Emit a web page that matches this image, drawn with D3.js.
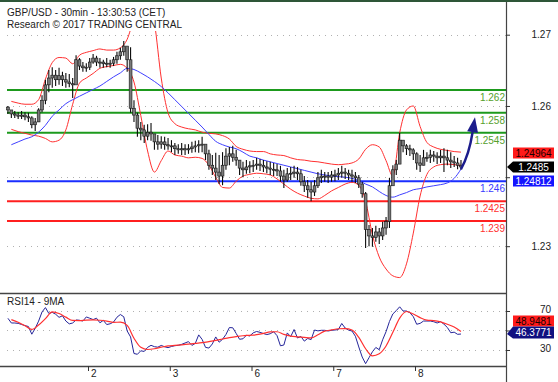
<!DOCTYPE html>
<html>
<head>
<meta charset="utf-8">
<script src="https://cdn.jsdelivr.net/npm/d3@7"></script>
<style>
  body { margin: 0; background: #fff; }
  svg { display: block; font-family: "Liberation Sans", Arial, sans-serif; }
</style>
</head>
<body>
<script>
// GBP/USD 30min, hourly bars (t = hours since start of day 1)

const firstOpen = 1.2590;

const barHigh = [
  1.2592, 1.2585, 1.2583, 1.2581, 1.2583, 1.2581, 1.2580, 1.2574, 1.2571, 1.2588,
  1.2611, 1.2638, 1.2655, 1.2660, 1.2655, 1.2659, 1.2652, 1.2650, 1.2648, 1.2641,
  1.2681, 1.2676, 1.2669, 1.2667, 1.2676, 1.2683, 1.2680, 1.2676, 1.2673, 1.2676,
  1.2673, 1.2678, 1.2687, 1.2694, 1.2706, 1.2690, 1.2695, 1.2602, 1.2580, 1.2564,
  1.2559, 1.2560, 1.2562, 1.2543, 1.2541, 1.2539, 1.2538, 1.2536, 1.2532, 1.2527,
  1.2525, 1.2527, 1.2525, 1.2525, 1.2529, 1.2531, 1.2532, 1.2538, 1.2524, 1.2515,
  1.2506, 1.2510, 1.2506, 1.2511, 1.2518, 1.2520, 1.2522, 1.2515, 1.2497, 1.2494,
  1.2497, 1.2495, 1.2497, 1.2501, 1.2499, 1.2497, 1.2495, 1.2494, 1.2492, 1.2490,
  1.2487, 1.2480, 1.2483, 1.2485, 1.2487, 1.2485, 1.2480, 1.2469, 1.2462, 1.2459,
  1.2462, 1.2476, 1.2480, 1.2476, 1.2476, 1.2478, 1.2480, 1.2483, 1.2487, 1.2483,
  1.2480, 1.2480, 1.2476, 1.2471, 1.2459, 1.2441, 1.2383, 1.2378, 1.2382, 1.2378,
  1.2389, 1.2397, 1.2466, 1.2488, 1.2497, 1.2545, 1.2532, 1.2525, 1.2524, 1.2518,
  1.2511, 1.2506, 1.2515, 1.2511, 1.2515, 1.2513, 1.2511, 1.2515, 1.2518, 1.2515,
  1.2511, 1.2504, 1.2501, 1.2497
];

const barLow = [
  1.2578, 1.2571, 1.2571, 1.2569, 1.2569, 1.2567, 1.2564, 1.2553, 1.2548, 1.2564,
  1.2581, 1.2595, 1.2616, 1.2624, 1.2627, 1.2629, 1.2627, 1.2624, 1.2625, 1.2606,
  1.2638, 1.2655, 1.2652, 1.2652, 1.2655, 1.2666, 1.2662, 1.2659, 1.2659, 1.2660,
  1.2659, 1.2662, 1.2666, 1.2673, 1.2680, 1.2652, 1.2580, 1.2564, 1.2538, 1.2532,
  1.2527, 1.2532, 1.2531, 1.2515, 1.2515, 1.2517, 1.2515, 1.2515, 1.2511, 1.2506,
  1.2508, 1.2506, 1.2506, 1.2508, 1.2510, 1.2511, 1.2510, 1.2511, 1.2497, 1.2480,
  1.2471, 1.2462, 1.2455, 1.2453, 1.2480, 1.2488, 1.2494, 1.2487, 1.2471, 1.2467,
  1.2473, 1.2474, 1.2476, 1.2480, 1.2478, 1.2476, 1.2474, 1.2471, 1.2469, 1.2469,
  1.2459, 1.2448, 1.2459, 1.2462, 1.2466, 1.2462, 1.2452, 1.2441, 1.2431, 1.2425,
  1.2434, 1.2448, 1.2457, 1.2459, 1.2457, 1.2459, 1.2460, 1.2462, 1.2466, 1.2464,
  1.2462, 1.2459, 1.2457, 1.2448, 1.2431, 1.2343, 1.2346, 1.2345, 1.2354, 1.2350,
  1.2357, 1.2366, 1.2378, 1.2453, 1.2471, 1.2497, 1.2511, 1.2506, 1.2504, 1.2497,
  1.2480, 1.2476, 1.2488, 1.2494, 1.2492, 1.2494, 1.2490, 1.2492, 1.2476, 1.2488,
  1.2483, 1.2485, 1.2481, 1.2480
];

const barClose = [
  1.2585, 1.2578, 1.2576, 1.2574, 1.2576, 1.2573, 1.2571, 1.2559, 1.2564, 1.2585,
  1.2602, 1.2629, 1.2641, 1.2646, 1.2638, 1.2645, 1.2638, 1.2634, 1.2631, 1.2629,
  1.2673, 1.2662, 1.2659, 1.2660, 1.2669, 1.2676, 1.2669, 1.2669, 1.2666, 1.2667,
  1.2667, 1.2673, 1.2680, 1.2687, 1.2697, 1.2673, 1.2588, 1.2576, 1.2553, 1.2550,
  1.2539, 1.2546, 1.2543, 1.2529, 1.2525, 1.2529, 1.2524, 1.2522, 1.2522, 1.2517,
  1.2515, 1.2517, 1.2515, 1.2517, 1.2520, 1.2522, 1.2524, 1.2525, 1.2508, 1.2488,
  1.2483, 1.2476, 1.2469, 1.2488, 1.2504, 1.2508, 1.2502, 1.2497, 1.2483, 1.2480,
  1.2485, 1.2487, 1.2488, 1.2490, 1.2488, 1.2485, 1.2483, 1.2481, 1.2480, 1.2478,
  1.2469, 1.2462, 1.2473, 1.2474, 1.2476, 1.2473, 1.2459, 1.2452, 1.2445, 1.2441,
  1.2452, 1.2466, 1.2469, 1.2469, 1.2467, 1.2471, 1.2471, 1.2474, 1.2476, 1.2474,
  1.2471, 1.2469, 1.2466, 1.2455, 1.2438, 1.2375, 1.2364, 1.2361, 1.2371, 1.2364,
  1.2378, 1.2389, 1.2452, 1.2480, 1.2490, 1.2532, 1.2522, 1.2517, 1.2515, 1.2508,
  1.2492, 1.2488, 1.2501, 1.2502, 1.2506, 1.2504, 1.2501, 1.2504, 1.2501, 1.2497,
  1.2494, 1.2492, 1.2488, 1.2485
];

// smooth lines, one value every second bar (bars 1, 3, ... 133)
const bbUpper = [
  1.2600, 1.2597, 1.2595, 1.2595, 1.2603, 1.2639, 1.2668, 1.2677, 1.2676, 1.2666,
  1.2681, 1.2686, 1.2689, 1.2692, 1.2690, 1.2690, 1.2694, 1.2709, 1.2746, 1.2779,
  1.2782, 1.2738, 1.2641, 1.2580, 1.2561, 1.2555, 1.2552, 1.2550, 1.2546, 1.2544,
  1.2543, 1.2540, 1.2534, 1.2521, 1.2516, 1.2513, 1.2512, 1.2512, 1.2508, 1.2506,
  1.2505, 1.2501, 1.2498, 1.2497, 1.2495, 1.2494, 1.2492, 1.2490, 1.2489, 1.2490,
  1.2492, 1.2499, 1.2516, 1.2524, 1.2520, 1.2496, 1.2469, 1.2545, 1.2585, 1.2592,
  1.2556, 1.2528, 1.2520, 1.2516, 1.2514, 1.2512, 1.2511
];

const bbLower = [
  1.2551, 1.2547, 1.2544, 1.2541, 1.2539, 1.2535, 1.2529, 1.2532, 1.2550, 1.2595,
  1.2632, 1.2641, 1.2649, 1.2658, 1.2661, 1.2663, 1.2665, 1.2658, 1.2634, 1.2575,
  1.2513, 1.2476, 1.2496, 1.2513, 1.2506, 1.2504, 1.2501, 1.2502, 1.2500, 1.2488,
  1.2467, 1.2449, 1.2448, 1.2460, 1.2469, 1.2472, 1.2474, 1.2473, 1.2471, 1.2464,
  1.2455, 1.2446, 1.2439, 1.2434, 1.2430, 1.2429, 1.2435, 1.2443, 1.2449, 1.2455,
  1.2458, 1.2453, 1.2425, 1.2366, 1.2327, 1.2306, 1.2294, 1.2291, 1.2315, 1.2369,
  1.2434, 1.2472, 1.2485, 1.2489, 1.2490, 1.2489, 1.2488
];

const movingAvg = [
  1.2524, 1.2529, 1.2534, 1.2538, 1.2546, 1.2558, 1.2574, 1.2585, 1.2596, 1.2603,
  1.2609, 1.2615, 1.2621, 1.2627, 1.2635, 1.2643, 1.2650, 1.2658, 1.2656, 1.2650,
  1.2643, 1.2635, 1.2626, 1.2615, 1.2603, 1.2591, 1.2579, 1.2567, 1.2555, 1.2542,
  1.2530, 1.2524, 1.2520, 1.2517, 1.2511, 1.2504, 1.2501, 1.2497, 1.2494, 1.2491,
  1.2488, 1.2485, 1.2482, 1.2479, 1.2476, 1.2473, 1.2471, 1.2469, 1.2468, 1.2467,
  1.2465, 1.2461, 1.2455, 1.2450, 1.2442, 1.2435, 1.2432, 1.2436, 1.2440, 1.2445,
  1.2447, 1.2450, 1.2452, 1.2454, 1.2457, 1.2465, 1.24812
];

const bollingerMidLast = 1.24964;

// RSI14 per bar and its 9 period average (every second bar)
const rsi = [
  62.5, 57.7, 57.7, 57.3, 56.2, 55.0, 54.1, 46.2, 52.2, 59.6,
  69.0, 73.5, 67.5, 68.6, 66.7, 63.5, 65.1, 59.7, 56.8, 57.7,
  60.8, 60.5, 59.7, 63.9, 62.6, 61.2, 62.6, 57.9, 60.4, 56.1,
  56.9, 58.7, 63.6, 66.4, 64.1, 49.5, 43.4, 26.4, 25.6, 29.2,
  28.5, 32.7, 34.8, 33.4, 32.9, 34.7, 33.3, 32.4, 33.6, 34.4,
  34.8, 35.8, 37.2, 38.6, 34.7, 36.8, 45.5, 40.9, 32.7, 32.0,
  36.2, 43.4, 38.0, 41.0, 45.9, 53.0, 52.8, 47.0, 41.0, 41.5,
  45.1, 44.4, 47.6, 49.0, 48.1, 46.9, 45.8, 46.7, 48.7, 44.7,
  34.3, 35.1, 47.5, 43.7, 51.0, 42.3, 43.9, 39.1, 41.8, 40.7,
  50.5, 49.6, 50.2, 50.2, 49.5, 50.2, 50.5, 51.0, 57.2, 52.5,
  50.4, 49.5, 44.1, 33.1, 22.8, 16.0, 22.1, 28.2, 32.6, 30.3,
  40.5, 48.8, 59.2, 67.0, 70.4, 74.3, 70.0, 70.0, 68.2, 64.2,
  56.4, 57.3, 59.7, 59.7, 59.7, 59.0, 57.7, 59.1, 56.5, 53.1,
  47.7, 48.3, 46.1, 46.3771
];

const rsiMA = [
  61.1, 58.4, 54.9, 51.1, 55.6, 62.2, 69.2, 67.5, 63.7, 60.3,
  60.2, 60.7, 60.8, 60.5, 59.7, 58.4, 58.5, 55.2, 42.1, 32.7,
  30.5, 31.3, 32.9, 34.2, 34.7, 35.3, 36.0, 36.7, 37.5, 38.6,
  39.8, 41.3, 42.7, 43.7, 44.6, 45.1, 45.7, 47.1, 48.5, 48.7,
  46.0, 44.2, 43.5, 42.9, 42.4, 45.6, 49.3, 50.6, 51.8, 51.9,
  50.5, 42.9, 31.3, 24.0, 26.1, 34.1, 48.1, 62.7, 69.5, 66.9,
  63.2, 60.7, 60.2, 58.8, 56.4, 53.5, 48.9481
];

// support / resistance levels
const levels = [1.262, 1.258, 1.2545, 1.246, 1.2425, 1.239];
const levelLabels = ["1.262", "1.258", "1.2545", "1.246", "1.2425", "1.239"];
const levelKinds = ["res", "res", "res", "pivot", "sup", "sup"];

// target arrow
const arrowTarget = { t: 137.6, v: 1.2572 };

// axes (the fourth price tick sits behind the value tags, so no label)
const priceTicks = [1.2717, 1.2592, 1.2467, 1.2346];
const priceTickLabels = ["1.27", "1.26", "", "1.23"];
const rsiTicks = [30, 50, 70];
const rsiTickLabels = ["30", "", "70"];
const dayHours = [24, 48, 72, 96, 120];
const dayLabels = ["2", "3", "6", "7", "8"];

// ---------------------------------------------------------------

const W = 558, H = 382;
const axisX = 506;
const mainTop = 3, mainBottom = 293, rsiBottom = 366;

var svg = d3.select("body").append("svg")
  .attr("width", W)
  .attr("height", H);

svg.append("rect").attr("width", W).attr("height", H).attr("fill", "#fff");

var x = d3.scaleLinear().domain([0, 120]).range([6.25, 415]);
var y = d3.scaleLinear().domain([1.22639, 1.27726]).range([mainBottom, mainTop]);
var yr = d3.scaleLinear().domain([13.59, 88.46]).range([rsiBottom, mainBottom]);

var defs = svg.append("defs");
defs.append("clipPath").attr("id", "clipMain")
  .append("rect").attr("x", 0).attr("y", mainTop).attr("width", axisX).attr("height", mainBottom - mainTop);
defs.append("clipPath").attr("id", "clipRsi")
  .append("rect").attr("x", 0).attr("y", mainBottom + 1).attr("width", axisX).attr("height", rsiBottom - mainBottom - 1);

var kindColor = { res: "#1d9a1d", pivot: "#1a2eff", sup: "#ff1f1f" };
var kindText = { res: "#55a02c", pivot: "#3a3aff", sup: "#ff3030" };

// dotted grid
function dotted(g, vals, scale) {
  g.selectAll("line").data(vals).enter().append("line")
    .attr("x1", 7).attr("x2", axisX)
    .attr("y1", function(d) { return Math.round(scale(d)) + 0.5; })
    .attr("y2", function(d) { return Math.round(scale(d)) + 0.5; })
    .attr("stroke", "#b0b0b0")
    .attr("stroke-dasharray", "1,5");
}
dotted(svg.append("g"), priceTicks, y);
dotted(svg.append("g"), rsiTicks, yr);

// level lines
var lv = svg.append("g");
lv.selectAll("line").data(levels).enter().append("line")
  .attr("x1", 7).attr("x2", axisX)
  .attr("y1", function(d) { return y(d); })
  .attr("y2", function(d) { return y(d); })
  .attr("stroke", function(d, i) { return kindColor[levelKinds[i]]; })
  .attr("stroke-width", 2);

lv.selectAll("text").data(levels).enter().append("text")
  .attr("x", axisX - 1)
  .attr("y", function(d) { return y(d) + 11; })
  .attr("text-anchor", "end")
  .attr("font-size", "10px")
  .attr("fill", function(d, i) { return kindText[levelKinds[i]]; })
  .text(function(d, i) { return levelLabels[i]; });

// main panel lines
var main = svg.append("g").attr("clip-path", "url(#clipMain)");
var lineHours = d3.range(1, 134, 2).map(function(i) { return i + 0.5; });

function smooth(vals) {
  return d3.line()
    .x(function(d, i) { return x(lineHours[i]); })
    .y(function(d) { return y(d); })
    .curve(d3.curveMonotoneX)(vals);
}

[bbUpper, bbLower].forEach(function(s) {
  main.append("path").attr("d", smooth(s))
    .attr("fill", "none").attr("stroke", "#ff3030").attr("stroke-width", 1);
});
main.append("path").attr("d", smooth(movingAvg))
  .attr("fill", "none").attr("stroke", "#4040ff").attr("stroke-width", 1);

// candles
var bars = barClose.map(function(c, i) {
  return { t: i + 0.5, o: i ? barClose[i - 1] : firstOpen, h: barHigh[i], l: barLow[i], c: c };
});

var cg = main.append("g");
cg.selectAll("line").data(bars).enter().append("line")
  .attr("x1", function(d) { return x(d.t); })
  .attr("x2", function(d) { return x(d.t); })
  .attr("y1", function(d) { return y(d.h); })
  .attr("y2", function(d) { return y(d.l); })
  .attr("stroke", "#0a0a0a")
  .attr("stroke-width", 1.1);

cg.selectAll("rect").data(bars).enter().append("rect")
  .attr("x", function(d) { return x(d.t) - 1.4; })
  .attr("width", 2.8)
  .attr("y", function(d) { return y(Math.max(d.o, d.c)); })
  .attr("height", function(d) { return Math.max(1, Math.abs(y(d.o) - y(d.c))); })
  .attr("fill", "#7a7a7a")
  .attr("stroke", "#111")
  .attr("stroke-width", 0.6);

// arrow from the last average value to the target
var ax0 = x(lineHours[lineHours.length - 1]), ay0 = y(movingAvg[movingAvg.length - 1]);
var ax1 = x(arrowTarget.t), ay1 = y(arrowTarget.v);
var cx = ax0 + 8, cy = ay0 - 14;
var dx = ax1 - cx, dy = ay1 - cy, len = Math.sqrt(dx * dx + dy * dy);
var ux = dx / len, uy = dy / len;
var bx = ax1 - ux * 15, by = ay1 - uy * 15;

svg.append("path")
  .attr("d", "M" + ax0 + "," + ay0 + "Q" + cx + "," + cy + " " + bx + "," + by)
  .attr("fill", "none").attr("stroke", "#1c1c8c").attr("stroke-width", 2.5);
svg.append("path")
  .attr("d", "M" + ax1 + "," + ay1 +
    "L" + (bx - uy * 5.5) + "," + (by + ux * 5.5) +
    "L" + (bx + uy * 5.5) + "," + (by - ux * 5.5) + "Z")
  .attr("fill", "#1c1c8c");

// RSI panel
var rg = svg.append("g").attr("clip-path", "url(#clipRsi)");
rg.append("path")
  .attr("d", d3.line()
    .x(function(d, i) { return x(i + 0.5); })
    .y(function(d) { return yr(d); })(rsi))
  .attr("fill", "none").attr("stroke", "#25259a").attr("stroke-width", 1);
rg.append("path")
  .attr("d", d3.line()
    .x(function(d, i) { return x(lineHours[i]); })
    .y(function(d) { return yr(d); })
    .curve(d3.curveMonotoneX)(rsiMA))
  .attr("fill", "none").attr("stroke", "#ff3030").attr("stroke-width", 1.2);

svg.append("text").attr("x", 7).attr("y", 305)
  .attr("font-size", "10px").attr("fill", "#222")
  .text("RSI14 - 9MA");

// frame lines
svg.append("line").attr("x1", 0).attr("x2", W).attr("y1", 1).attr("y2", 1)
  .attr("stroke", "#2e5638").attr("stroke-width", 2);
svg.append("line").attr("x1", axisX + 0.5).attr("x2", axisX + 0.5).attr("y1", 2).attr("y2", H)
  .attr("stroke", "#444").attr("stroke-width", 1.2);
[mainBottom + 0.5, rsiBottom + 0.5].forEach(function(v) {
  svg.append("line").attr("x1", 0).attr("x2", axisX).attr("y1", v).attr("y2", v)
    .attr("stroke", "#444").attr("stroke-width", 1.4);
});

// axes
function styleAxis(g) {
  g.select(".domain").remove();
  g.selectAll("line").attr("stroke", "#333");
  g.selectAll("text").attr("fill", "#222").attr("font-size", "10px")
    .attr("font-family", "Liberation Sans, Arial, sans-serif");
}

var gy = svg.append("g").attr("transform", "translate(" + axisX + ",0)")
  .call(d3.axisRight(y).tickValues(priceTicks).tickSize(4)
    .tickFormat(function(d, i) { return priceTickLabels[i]; }));
styleAxis(gy);
gy.selectAll("text").attr("x", 45).attr("text-anchor", "end");

var gr = svg.append("g").attr("transform", "translate(" + axisX + ",0)")
  .call(d3.axisRight(yr).tickValues(rsiTicks).tickSize(4)
    .tickFormat(function(d, i) { return rsiTickLabels[i]; }));
styleAxis(gr);
gr.selectAll("text").attr("x", 45).attr("text-anchor", "end").attr("dy", "0.2em");

var gx = svg.append("g").attr("transform", "translate(0," + rsiBottom + ")")
  .call(d3.axisBottom(x).tickValues(dayHours).tickSize(5)
    .tickFormat(function(d, i) { return dayLabels[i]; }));
styleAxis(gx);
gx.selectAll("text").attr("x", 2.5).attr("y", 11).attr("dy", 0).attr("text-anchor", "start");

// value tags on the right
function tag(yc, h, fill, color, label, pointer) {
  var g = svg.append("g");
  var d = "M513," + (yc - h / 2) + "H554V" + (yc + h / 2) + "H513";
  d += pointer != null ? "L507," + pointer + "Z" : "Z";
  g.append("path").attr("d", d).attr("fill", fill);
  g.append("text").attr("x", 533.5).attr("y", yc + 3.6)
    .attr("text-anchor", "middle").attr("font-size", "10px")
    .attr("fill", color).text(label);
}

var lastClose = barClose[barClose.length - 1];
var yc = y(lastClose);
tag(yc - 14, 11, "#ff1a1a", "#1a0000", bollingerMidLast.toFixed(5));
tag(yc, 11, "#000", "#fff", lastClose.toFixed(4), yc);
tag(yc + 14, 11, "#1414ff", "#fff", movingAvg[movingAvg.length - 1].toFixed(5));

var rsiLast = rsi[rsi.length - 1];
var yrc = yr(rsiLast);
tag(yrc - 1.5 - 11.5, 11, "#ff1a1a", "#1a0000", rsiMA[rsiMA.length - 1].toFixed(4));
tag(yrc - 1.5, 12, "#101080", "#fff", rsiLast.toFixed(4), yrc);

// header
svg.append("rect").attr("x", 0).attr("y", 3).attr("width", 178).attr("height", 28).attr("fill", "#fff");
svg.append("text").attr("x", 7).attr("y", 15.5)
  .attr("font-size", "10px").attr("fill", "#222")
  .text("GBP/USD - 30min - 13:30:53 (CET)");
svg.append("text").attr("x", 7).attr("y", 27.5)
  .attr("font-size", "10px").attr("fill", "#222")
  .text("Research \u00a9 2017 TRADING CENTRAL");
</script>
</body>
</html>
